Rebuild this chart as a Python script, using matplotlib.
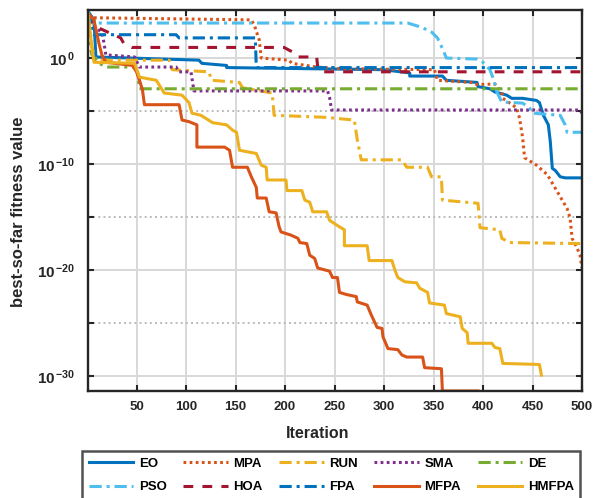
import numpy as np
import matplotlib
matplotlib.use("Agg")
import matplotlib.pyplot as plt

plt.rcParams['font.family'] = ['Liberation Sans', 'DejaVu Sans']
plt.rcParams['font.weight'] = 'bold'
plt.rcParams['mathtext.fontset'] = 'custom'
plt.rcParams['mathtext.rm'] = 'Liberation Sans:bold'
plt.rcParams['mathtext.bf'] = 'Liberation Sans:bold'
plt.rcParams['mathtext.it'] = 'Liberation Sans:bold'

# corner points of each convergence curve: iteration, log10(best-so-far fitness)
eo_it = [1, 7, 9, 113, 116, 141, 141, 299, 326, 326, 359, 363, 394, 395, 407, 412, 424, 429,
         440, 454, 457, 461, 466, 468, 470, 473, 478, 483, 500]
eo_lg = [4.4, 3.6, 0.1, -0.2, -0.5, -0.7, -0.9, -1.1, -1.4, -1.7, -1.7, -2.1, -2.3, -2.7, -2.9,
         -3.2, -3.5, -3.8, -3.8, -4.0, -4.2, -5.4, -6.3, -7.9, -10.4, -10.6, -11.2, -11.3, -11.3]

mpa_it = [1, 5, 166, 169, 174, 176, 204, 207, 232, 255, 351, 354, 388, 394, 412, 419, 420, 434,
          437, 440, 442, 454, 465, 475, 485, 488, 490, 495, 498, 500]
mpa_lg = [3.9, 3.8, 3.6, 3.1, 1.7, 0.0, -0.2, -0.5, -0.85, -1.0, -1.1, -2.1, -2.3, -2.5, -2.45,
          -3.2, -3.8, -4.7, -5.7, -7.5, -9.4, -10.1, -11.0, -12.6, -14.2, -15.1, -17.0, -17.9,
          -18.6, -19.8]

run_it = [1, 5, 9, 83, 86, 123, 126, 154, 157, 187, 189, 243, 253, 270, 273, 277, 318, 323, 344,
          348, 358, 359, 395, 397, 417, 419, 427, 500]
run_lg = [4.0, 1.0, -0.2, -0.2, -1.1, -1.3, -2.1, -2.3, -2.8, -3.3, -5.4, -5.6, -5.7, -5.85, -7.7,
          -9.6, -9.6, -10.3, -10.3, -11.2, -11.2, -13.4, -13.7, -16.0, -16.2, -17.0, -17.4, -17.5]

sma_it = [1, 5, 10, 15, 17, 19, 48, 53, 90, 93, 105, 108, 243, 245, 247, 498, 500]
sma_lg = [4.0, 3.0, 2.8, 2.4, 1.5, 0.3, 0.1, -0.85, -0.85, -1.3, -1.3, -3.1, -3.1, -3.7, -4.9,
          -4.9, -5.2]

de_it = [1, 2, 5, 12, 20, 48, 51, 53, 500]
de_lg = [3.1, 1.5, 0.3, -0.5, -0.85, -0.85, -1.3, -2.9, -2.9]

pso_it = [1, 5, 324, 338, 348, 354, 359, 363, 394, 400, 407, 411, 414, 419, 440, 447, 450, 478,
          483, 485, 500]
pso_lg = [4.2, 3.3, 3.3, 2.9, 2.45, 1.9, 0.9, 0.0, -0.1, -0.4, -1.1, -2.1, -3.2, -4.15, -4.25,
          -4.7, -5.2, -5.4, -6.3, -7.0, -7.0]

hoa_it = [1, 8, 22, 34, 37, 45, 199, 207, 212, 232, 233, 235, 500]
hoa_lg = [4.1, 3.0, 2.4, 1.9, 1.4, 1.0, 1.0, 0.6, 0.1, 0.1, -0.85, -1.3, -1.3]

fpa_it = [1, 5, 7, 90, 93, 170, 171, 500]
fpa_lg = [4.5, 3.1, 2.2, 2.2, 1.9, 1.9, -0.9, -0.9]

mfpa_it = [1, 7, 12, 15, 19, 46, 50, 53, 56, 58, 93, 96, 103, 111, 111, 139, 144, 147, 162, 166,
           171, 172, 181, 184, 191, 194, 196, 206, 213, 215, 222, 225, 230, 233, 245, 248, 253,
           255, 262, 272, 273, 283, 287, 293, 298, 299, 304, 314, 318, 323, 339, 341, 358, 359,
           395]
mfpa_lg = [4.2, 3.6, 1.4, 0.3, -0.4, -0.7, -1.3, -2.1, -3.0, -4.4, -4.4, -5.85, -6.0, -6.3, -8.4,
           -8.4, -8.7, -10.3, -10.3, -11.2, -12.2, -13.2, -13.2, -14.5, -14.6, -15.9, -16.4,
           -16.7, -17.0, -17.4, -17.5, -18.6, -18.9, -19.8, -20.1, -20.7, -20.7, -22.1, -22.3,
           -22.5, -23.0, -23.3, -24.2, -25.4, -25.5, -26.3, -27.4, -27.5, -28.0, -28.2, -28.2,
           -29.2, -29.3, -31.4, -31.4]

hmfpa_it = [1, 5, 7, 48, 53, 70, 78, 96, 103, 106, 115, 127, 141, 147, 151, 154, 171, 176, 181,
            182, 201, 202, 217, 220, 225, 228, 242, 245, 253, 260, 260, 283, 285, 308, 311, 314,
            321, 333, 336, 344, 346, 361, 363, 377, 379, 384, 385, 409, 412, 417, 420, 457, 459]
hmfpa_lg = [4.3, 0.9, -0.4, -0.5, -1.8, -2.1, -3.3, -3.5, -4.2, -5.2, -5.4, -6.1, -6.3, -6.8,
            -7.0, -8.7, -9.0, -10.1, -10.3, -11.5, -11.5, -12.5, -12.5, -13.4, -13.6, -14.5,
            -14.5, -15.3, -15.8, -16.2, -17.7, -17.7, -19.1, -19.1, -20.0, -20.7, -21.1, -21.2,
            -21.7, -22.1, -23.1, -23.3, -24.1, -24.4, -25.5, -25.9, -26.9, -26.9, -27.3, -27.4,
            -28.8, -28.9, -29.9]

series = [
    ('EO', eo_it, eo_lg, '#0072BD', '-'),
    ('MPA', mpa_it, mpa_lg, '#D95319', ':'),
    ('RUN', run_it, run_lg, '#EDB120', '-.'),
    ('SMA', sma_it, sma_lg, '#7E2F8E', ':'),
    ('DE', de_it, de_lg, '#77AC30', '-.'),
    ('PSO', pso_it, pso_lg, '#4DBEEE', '-.'),
    ('HOA', hoa_it, hoa_lg, '#A2142F', '--'),
    ('FPA', fpa_it, fpa_lg, '#0072BD', '-.'),
    ('MFPA', mfpa_it, mfpa_lg, '#D95319', '-'),
    ('HMFPA', hmfpa_it, hmfpa_lg, '#EDB120', '-'),
]

fig = plt.figure(figsize=(5.95, 4.98), dpi=100)
ax = fig.add_axes([88 / 595, 1 - 391 / 498, 494 / 595, 381 / 498])

handles = {}
for name, it, lg, col, ls in series:
    ln, = ax.plot(it, 10.0 ** np.array(lg), color=col, lw=2.2, label=name)
    if ls == '--':
        ln.set_dashes((3.2, 3.0))
    elif ls == '-.':
        ln.set_dashes((4.0, 1.6, 1.0, 1.6))
    elif ls == ':':
        ln.set_dashes((0.9, 1.1))
    handles[name] = ln

ax.set_yscale('log')
ax.set_xlim(1, 500)
ax.set_ylim(10 ** -31.4, 10 ** 4.53)

ax.set_xticks(np.arange(50, 501, 50))
ax.set_yticks([1e-30, 1e-20, 1e-10, 1e0])
ax.set_yticklabels([r'$\mathbf{10}^{\,\mathbf{-30}}$', r'$\mathbf{10}^{\,\mathbf{-20}}$',
                    r'$\mathbf{10}^{\,\mathbf{-10}}$', r'$\mathbf{10}^{\,\mathbf{0}}$'])
ax.set_yticks([1e-25, 1e-15, 1e-5], minor=True)
ax.yaxis.set_minor_formatter(plt.NullFormatter())

ax.grid(True, which='major', color='#d8d8d8', lw=1.4)
ax.grid(True, which='minor', axis='y', color='#bbbbbb', lw=1.4, ls=':')
ax.set_axisbelow(True)

ax.tick_params(axis='both', which='both', direction='in', top=True, right=True,
               length=4.5, width=1.5, colors='#262626')
ax.tick_params(axis='x', labelsize=9.5, pad=7)
ax.tick_params(axis='y', labelsize=11, pad=9)
for lab in ax.get_xticklabels() + ax.get_yticklabels():
    lab.set_fontweight('bold')
for sp in ax.spines.values():
    sp.set_linewidth(1.7)
    sp.set_color('#262626')

fig.text(318 / 595, 1 - 433 / 498, 'Iteration', ha='center', va='center',
         fontsize=11.5, fontweight='bold', color='#262626')
fig.text(19 / 595, 1 - 212 / 498, 'best-so-far fitness value', ha='center', va='center',
         rotation=90, fontsize=12, fontweight='bold', color='#262626')

order = ['EO', 'PSO', 'MPA', 'HOA', 'RUN', 'FPA', 'SMA', 'MFPA', 'DE', 'HMFPA']
leg = fig.legend([handles[n] for n in order], order, loc='upper left',
                 bbox_to_anchor=(82 / 595, 1 - 451 / 498), ncol=5, fontsize=9.5,
                 frameon=True, fancybox=False, borderaxespad=0, handlelength=3.4,
                 handletextpad=0.4, columnspacing=1.25, labelspacing=0.85, borderpad=0.5)
leg.get_frame().set_edgecolor('#262626')
leg.get_frame().set_linewidth(1.8)
for t in leg.get_texts():
    t.set_fontweight('bold')

fig.savefig('out.png', dpi=100)
